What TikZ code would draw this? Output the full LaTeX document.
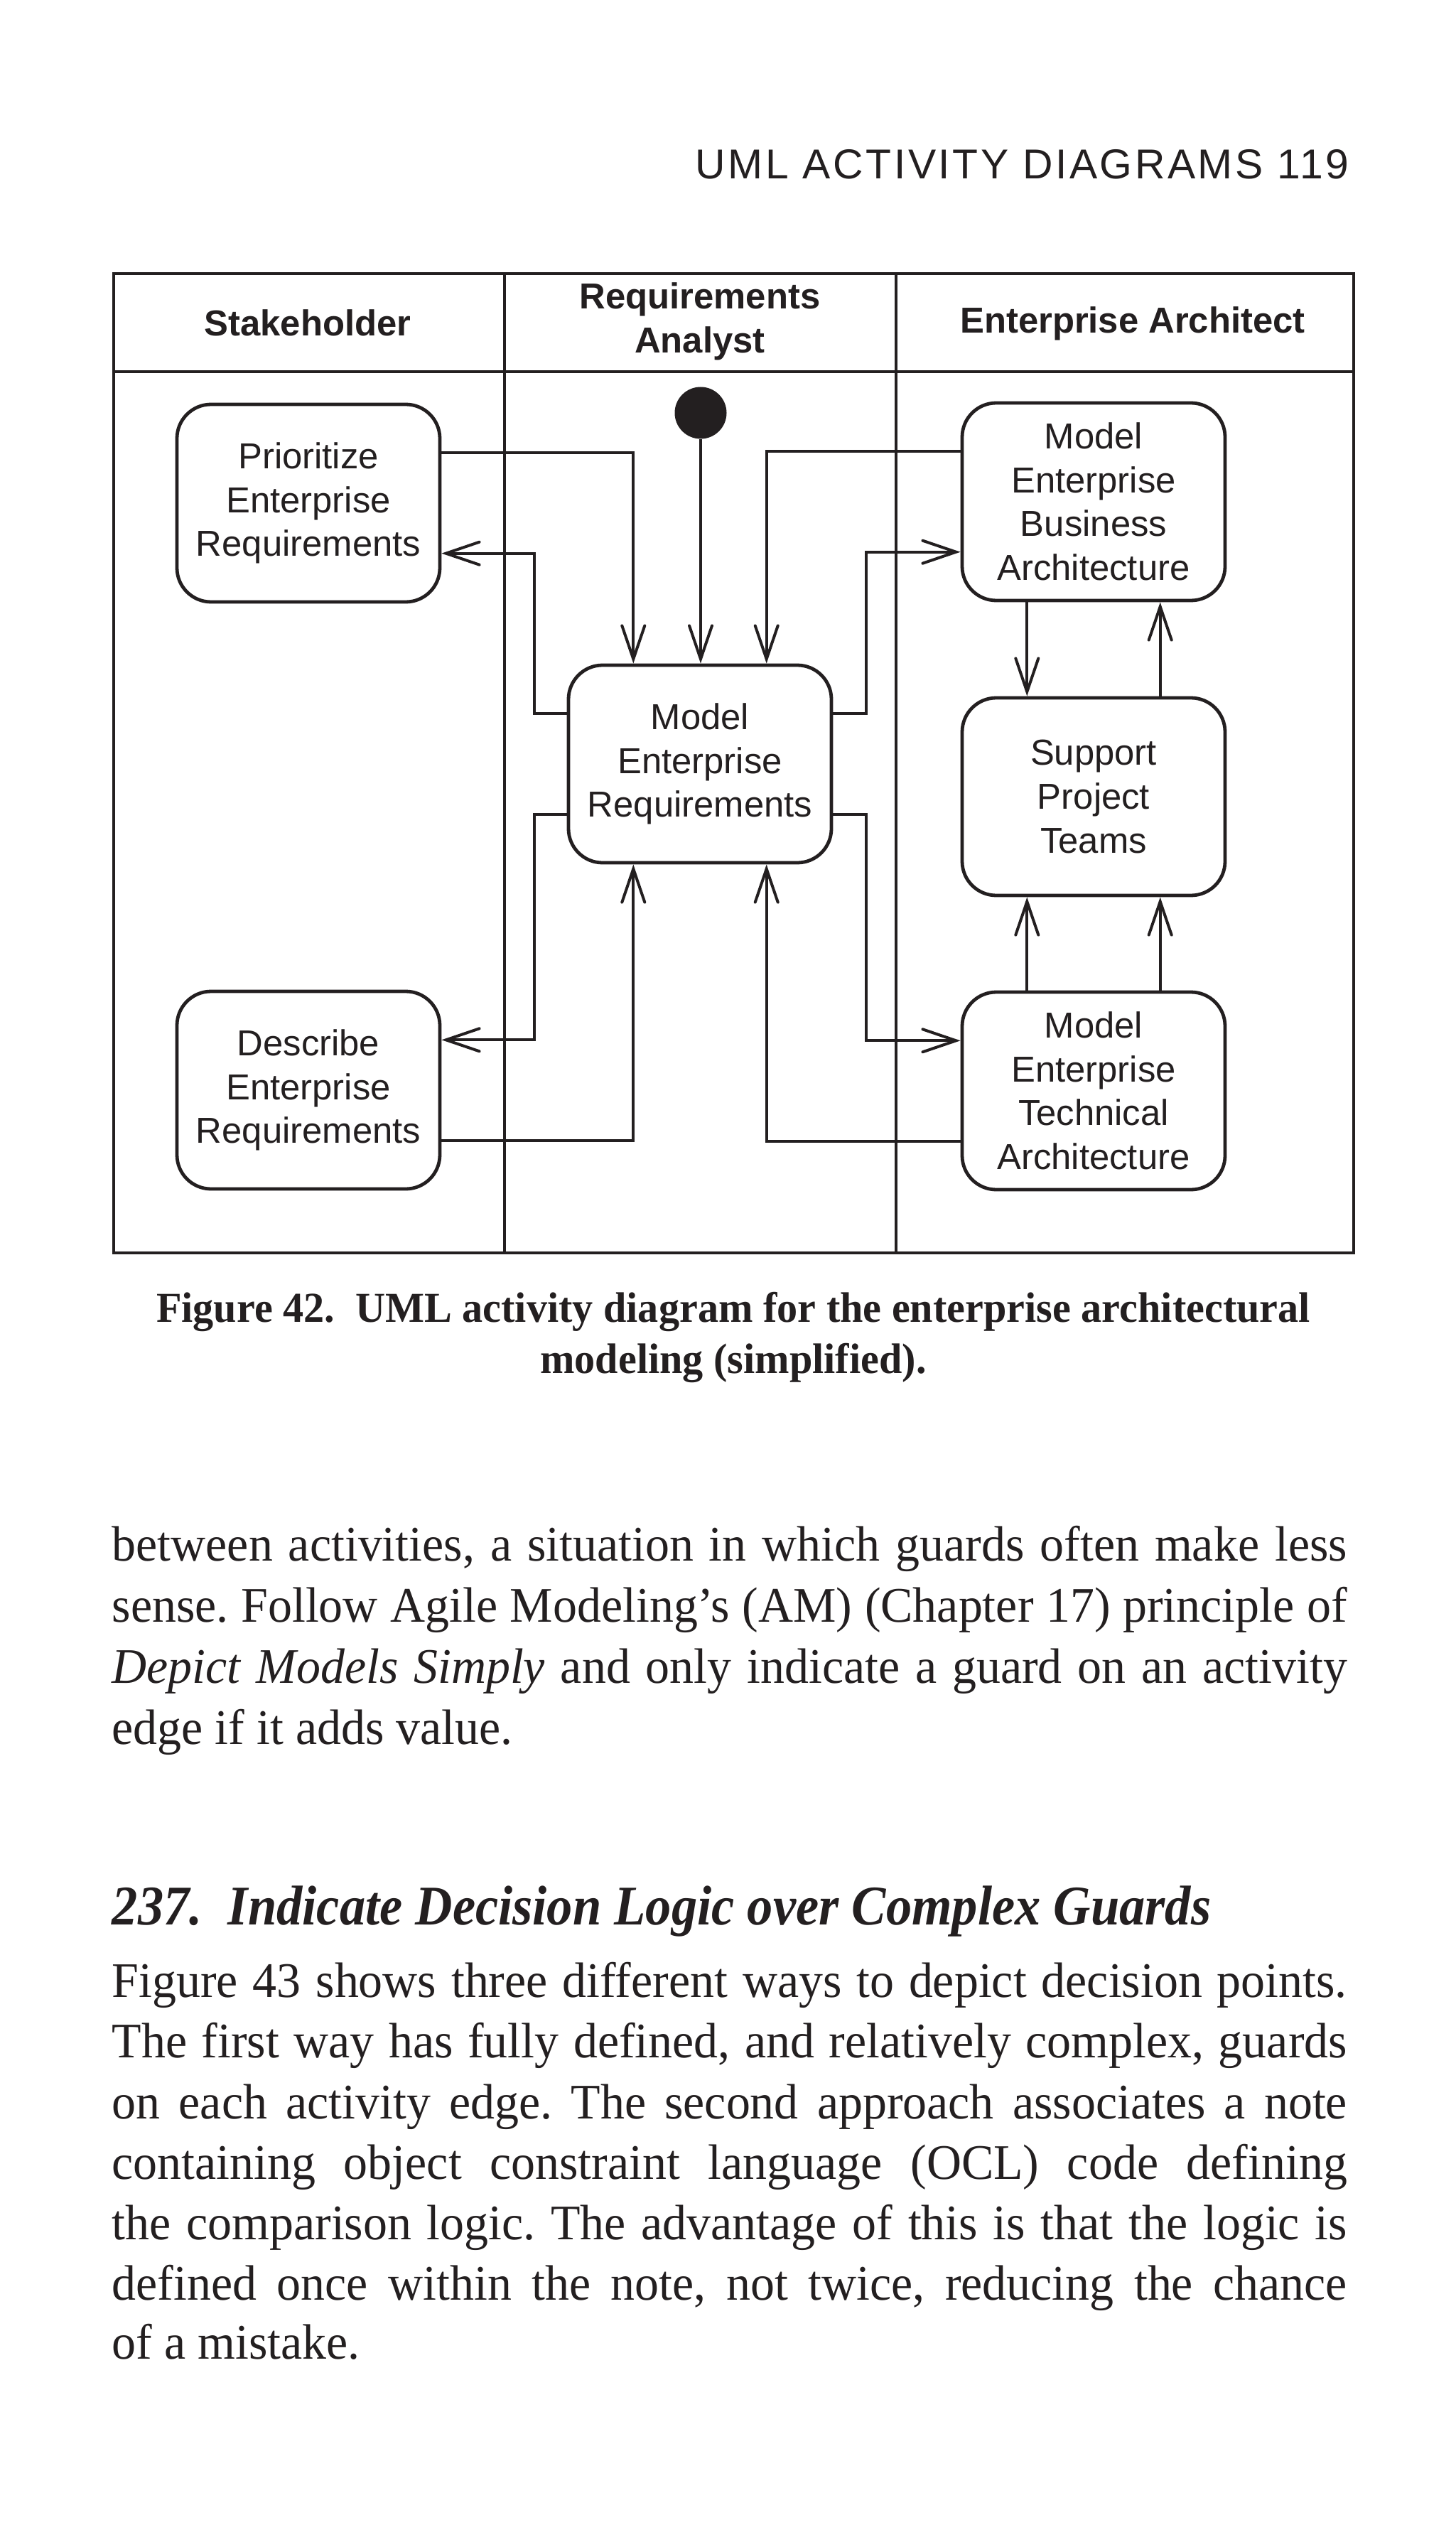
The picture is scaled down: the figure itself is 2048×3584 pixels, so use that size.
\documentclass[tikz,border=0pt]{standalone}
\usepackage{fontspec}
\setmainfont{Liberation Serif}
\newfontfamily\dsans{Liberation Sans}
\newfontfamily\hdrfont{Liberation Sans}[LetterSpace=6]
\newfontfamily\bodyfont{Liberation Serif}[FakeStretch=0.97]
\newfontfamily\headfont{Liberation Serif}[FakeStretch=0.92]
\newfontfamily\capfont{Liberation Serif}[FakeStretch=0.97]
\usetikzlibrary{arrows.meta,calc}
\definecolor{ink}{HTML}{231F20}
\newcommand\jline[1]{\makebox[434.5pt][s]{#1}}
\frenchspacing
\begin{document}
\begin{tikzpicture}[x=0.25pt,y=-0.25pt,
  act/.style={draw=ink, line width=1.2pt, rounded corners=12pt, minimum width=92.5pt, minimum height=69.5pt, align=center, inner sep=0pt, text=ink, font=\dsans\fontsize{12.7pt}{15.4pt}\selectfont},
  lane/.style={draw=ink, line width=1.1pt},
  lanehead/.style={text=ink, align=center, inner sep=0pt, font=\dsans\bfseries\fontsize{12.7pt}{15.5pt}\selectfont},
  flow/.style={draw=ink, line width=1pt, -{Straight Barb[length=11.75pt,width=8pt,line cap=round]}},
  bl/.style={anchor=base west, inner sep=0pt, text=ink, font=\bodyfont\frenchspacing\fontsize{17.5pt}{21pt}\selectfont},
  capt/.style={anchor=base, inner sep=0pt, text=ink, font=\capfont\bfseries\fontsize{15pt}{18pt}\selectfont}
]
\useasboundingbox (0,0) rectangle (2048,3584);
\fill[white] (0,0) rectangle (2048,3584);

% running head
\node[anchor=base east, inner sep=0pt, text=ink, font=\hdrfont\fontsize{14.7pt}{17pt}\selectfont] (runhead) at (1899,252) {UML ACTIVITY DIAGRAMS 119};

% swimlanes
\draw[lane] (160,385) rectangle (1905,1763);
\draw[lane] (160,523) -- (1905,523);
\draw[lane] (710,385) -- (710,1763);
\draw[lane] (1261,385) -- (1261,1763);
\node[lanehead] (h1) at (433,454) {Stakeholder};
\node[lanehead] (h2) at (985,452) {Requirements\\Analyst};
\node[lanehead] (h3) at (1594,455) {Enterprise Architect};

% activities
\node[act] (pri) at (434,708) {Prioritize\\Enterprise\\Requirements};
\node[act] (des) at (434,1534) {Describe\\Enterprise\\Requirements};
\node[act] (mer) at (985,1075) {Model\\Enterprise\\Requirements};
\node[act] (meba) at (1539,706) {Model\\Enterprise\\Business\\Architecture};
\node[act] (spt) at (1539,1121) {Support\\Project\\Teams};
\node[act] (mta) at (1539,1535) {Model\\Enterprise\\Technical\\Architecture};
\node[circle, fill=ink, minimum size=18.25pt, inner sep=0pt] (init) at (986,581) {};

% flows
\draw[flow] ($(pri.north east)!0.25!(pri.south east)$) -| ($(mer.north west)!0.25!(mer.north east)$);
\draw[flow] (init.south) -- (init.south |- mer.north);
\draw[flow] ($(meba.north west)!0.25!(meba.south west)$) -| ($(mer.north west)!0.75!(mer.north east)$);
\draw[flow] ($(mer.north west)!0.25!(mer.south west)$) -- ++(-46,0) |- ($(pri.north east)!0.75!(pri.south east)$);
\draw[flow] ($(mer.north west)!0.75!(mer.south west)$) -- ++(-46,0) |- ($(des.north east)!0.25!(des.south east)$);
\draw[flow] ($(des.north east)!0.75!(des.south east)$) -| ($(mer.south west)!0.25!(mer.south east)$);
\draw[flow] ($(mta.north west)!0.75!(mta.south west)$) -| ($(mer.south west)!0.75!(mer.south east)$);
\draw[flow] ($(mer.north east)!0.25!(mer.south east)$) -- ++(47,0) |- ($(meba.north west)!0.75!(meba.south west)$);
\draw[flow] ($(mer.north east)!0.75!(mer.south east)$) -- ++(47,0) |- ($(mta.north west)!0.25!(mta.south west)$);
\draw[flow] ($(meba.south west)!0.25!(meba.south east)$) -- ($(spt.north west)!0.25!(spt.north east)$);
\draw[flow] ($(spt.north west)!0.75!(spt.north east)$) -- ($(meba.south west)!0.75!(meba.south east)$);
\draw[flow] ($(mta.north west)!0.25!(mta.north east)$) -- ($(spt.south west)!0.25!(spt.south east)$);
\draw[flow] ($(mta.north west)!0.75!(mta.north east)$) -- ($(spt.south west)!0.75!(spt.south east)$);

% caption
\node[capt] (cap1) at (1032,1860) {Figure 42.\ \ UML activity diagram for the enterprise architectural};
\node[capt] (cap2) at (1032,1932) {modeling (simplified).};

% paragraph 1
\node[bl] (p1a) at (157,2196) {\jline{between activities, a situation in which guards often make less}};
\node[bl] (p1b) at (157,2282) {\jline{sense. Follow Agile Modeling’s (AM) (Chapter 17) principle of}};
\node[bl] (p1c) at (157,2368) {\jline{\textit{Depict Models Simply} and only indicate a guard on an activity}};
\node[bl] (p1d) at (157,2454) {edge if it adds value.};

% heading
\node[bl, font=\headfont\bfseries\itshape\fontsize{19.7pt}{22pt}\selectfont] (head) at (157,2708) {237.\ \ Indicate Decision Logic over Complex Guards};

% paragraph 2
\node[bl] (p2a) at (157,2810) {\jline{Figure 43 shows three different ways to depict decision points.}};
\node[bl] (p2b) at (157,2895) {\jline{The first way has fully defined, and relatively complex, guards}};
\node[bl] (p2c) at (157,2981) {\jline{on each activity edge. The second approach associates a note}};
\node[bl] (p2d) at (157,3066) {\jline{containing object constraint language (OCL) code defining}};
\node[bl] (p2e) at (157,3151) {\jline{the comparison logic. The advantage of this is that the logic is}};
\node[bl] (p2f) at (157,3236) {\jline{defined once within the note, not twice, reducing the chance}};
\node[bl] (p2g) at (157,3319) {of a mistake.};
\end{tikzpicture}
\end{document}
